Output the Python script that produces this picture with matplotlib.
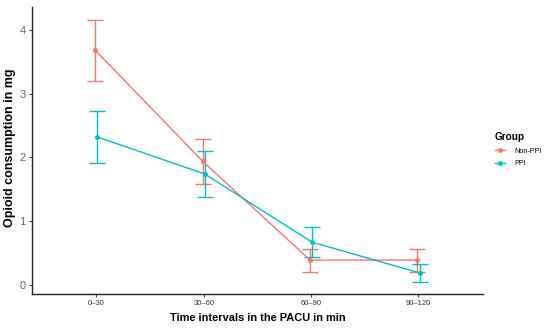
import matplotlib
matplotlib.use("Agg")
import numpy as np
import matplotlib.pyplot as plt
from matplotlib.lines import Line2D

plt.rcParams["font.family"] = ["Liberation Sans", "DejaVu Sans"]

intervals = ["0\u201330", "30\u201360", "60\u201390", "90\u2013120"]
groups = ["Non-PPI", "PPI"]
colors = {"Non-PPI": "#F8766D", "PPI": "#00BFC4"}

non_ppi_mean = [3.68, 1.94, 0.39, 0.39]
non_ppi_low = [3.20, 1.58, 0.20, 0.20]
non_ppi_high = [4.15, 2.29, 0.57, 0.57]

ppi_mean = [2.32, 1.74, 0.67, 0.19]
ppi_low = [1.91, 1.38, 0.44, 0.05]
ppi_high = [2.73, 2.10, 0.91, 0.33]

series = {
    "Non-PPI": (non_ppi_mean, non_ppi_low, non_ppi_high, -0.01),
    "PPI": (ppi_mean, ppi_low, ppi_high, 0.01),
}

fig = plt.figure(figsize=(5.5, 3.28), dpi=100)
ax = fig.add_axes([0.058, 0.104, 0.82, 0.875])

x = np.arange(1, len(intervals) + 1)
for g in groups:
    m, lo, hi, dx = series[g]
    m = np.array(m)
    err = [m - np.array(lo), np.array(hi) - m]
    ax.errorbar(x + dx, m, yerr=err, color=colors[g], lw=1.0, capsize=6,
                capthick=1.0, elinewidth=1.0, marker="o", ms=2.5, zorder=2)

ax.set_xlim(0.4, 4.6)
ax.set_ylim(-0.14, 4.36)
ax.set_xticks(x)
ax.set_xticklabels(intervals, fontsize=5.5, color="#333333")
ax.set_yticks([0, 1, 2, 3, 4])
ax.set_yticklabels(["0", "1", "2", "3", "4"], fontsize=8, color="#666666")
ax.tick_params(axis="both", length=2.5, width=0.8, color="#444444", pad=2)

for s in ["top", "right"]:
    ax.spines[s].set_visible(False)
for s in ["left", "bottom"]:
    ax.spines[s].set_linewidth(1.0)
    ax.spines[s].set_color("#222222")

ax.set_xlabel("Time intervals in the PACU in min", fontsize=7.9, fontweight="bold", labelpad=4)
ax.set_ylabel("Opioid consumption in mg", fontsize=9, fontweight="bold", labelpad=1.5)
ax.yaxis.set_label_coords(-0.036, 0.51)

handles = [Line2D([0], [0], color=colors[g], lw=1.0, marker="o", ms=2.5) for g in groups]
leg = fig.legend(handles, groups, title="Group", loc="upper left",
                 bbox_to_anchor=(0.888, 0.617), frameon=False, fontsize=5.2,
                 title_fontproperties={"weight": "bold", "size": 7.2},
                 handlelength=1.4, handletextpad=1.3, labelspacing=0.75)
leg._legend_box.align = "left"

fig.savefig("out.png", dpi=100)
